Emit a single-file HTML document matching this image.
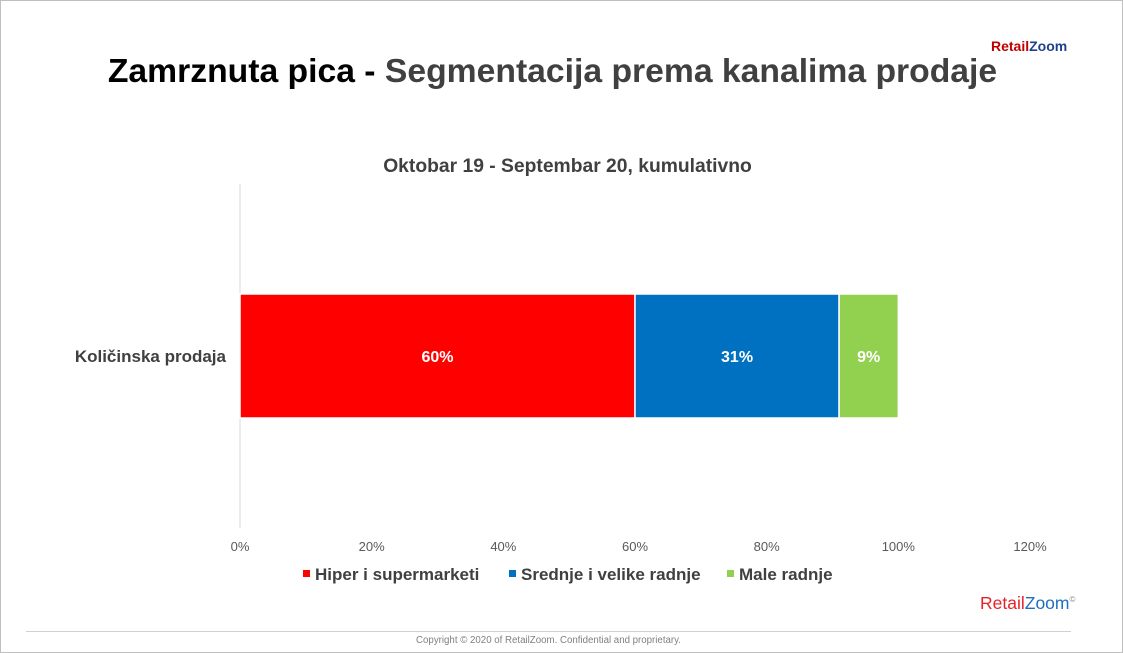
<!DOCTYPE html>
<html><head><meta charset="utf-8"><style>
body{margin:0;width:1123px;height:653px;background:#fff;font-family:"Liberation Sans",Arial,sans-serif;position:relative;overflow:hidden}
.abs{position:absolute}
</style></head><body>
<div class="abs" style="left:0;top:0;width:1121px;height:651px;border:1px solid #bfbfbf"></div>
<div class="abs" style="left:991px;top:38px;font-size:14px;font-weight:bold"><span style="color:#c00000">Retail</span><span style="color:#1f3f8f">Zoom</span></div>
<div class="abs" style="left:0;width:1105px;top:52px;text-align:center;font-size:33.7px;font-weight:bold;color:#000;white-space:nowrap">Zamrznuta pica - <span style="color:#404040">Segmentacija prema kanalima prodaje</span></div>
<div class="abs" style="left:0;width:1135px;top:156px;text-align:center;font-size:19.3px;font-weight:bold;color:#404040">Oktobar 19 - Septembar 20, kumulativno</div>
<svg class="abs" style="left:0;top:0" width="1123" height="653" id="chart"></svg>
<div class="abs" style="left:980px;top:593px;font-size:17.5px"><span style="color:#e8202a">Retail</span><span style="color:#1f6fc0">Zoom</span><sup style="font-size:8px;color:#888">©</sup></div>
<div class="abs" style="left:26px;top:631px;width:1045px;height:1px;background:#d0d0d0"></div>
<div class="abs" style="left:0;width:1097px;top:635px;text-align:center;font-size:9.7px;color:#808080">Copyright © 2020 of RetailZoom. Confidential and proprietary.</div>
<script>
const categories=["Količinska prodaja"];
const seriesNames=["Hiper i supermarketi","Srednje i velike radnje","Male radnje"];
const seriesColors=["#ff0000","#0070c0","#92d050"];
const seriesValues=[[60],[31],[9]];
const tickValues=[0,20,40,60,80,100,120];
const svg=document.getElementById('chart');
const NS='http://www.w3.org/2000/svg';
const x0=240,x1=1030,xmax=120;
const xs=v=>x0+(x1-x0)*v/xmax;
function mk(t,a,p){const e=document.createElementNS(NS,t);for(const k in a)e.setAttribute(k,a[k]);(p||svg).appendChild(e);return e;}
const ax=mk('line',{x1:x0,x2:x0,y1:184,y2:528,stroke:'#d9d9d9','stroke-width':1});


tickValues.forEach(v=>{const t=mk('text',{x:xs(v),y:551,'text-anchor':'middle','font-size':13,fill:'#595959','font-family':'Liberation Sans, sans-serif'});t.textContent=v+'%';

});
categories.forEach((c,ci)=>{
 const yc=356,h=124;
 const l=mk('text',{x:226,y:yc+6,'text-anchor':'end','font-size':17,'font-weight':'bold',fill:'#404040','font-family':'Liberation Sans, sans-serif'});l.textContent=c;
 
 
 let acc=0;
 seriesValues.forEach((sv,si)=>{const v=sv[ci];
  const r=mk('rect',{x:xs(acc),y:yc-h/2,width:xs(acc+v)-xs(acc),height:h,fill:seriesColors[si],stroke:'#fff','stroke-width':1.5});
  
  
  const t=mk('text',{x:(xs(acc)+xs(acc+v))/2,y:yc+6,'text-anchor':'middle','font-size':16,'font-weight':'bold',fill:'#fff','font-family':'Liberation Sans, sans-serif'});t.textContent=v+'%';
  
  
  acc+=v;});
});
const legX=[303,509,727];
seriesNames.forEach((n,i)=>{
 const g=mk('g',{});
 
 
 mk('rect',{x:legX[i],y:570,width:7,height:7,fill:seriesColors[i]},g);
 const t=mk('text',{x:legX[i]+12,y:580,'font-size':17,'font-weight':'bold',fill:'#404040','font-family':'Liberation Sans, sans-serif'},g);t.textContent=n;
});
</script>
</body></html>
